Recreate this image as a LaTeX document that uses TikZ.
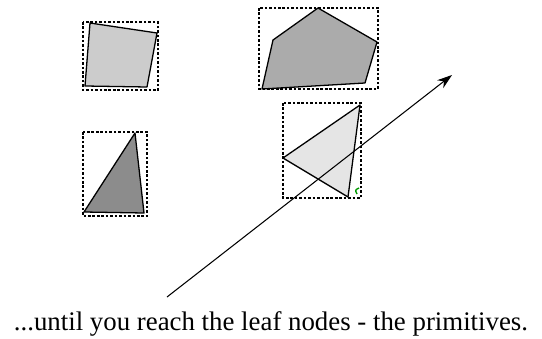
\documentclass[tikz,border=0pt]{standalone}
\usepackage{fontspec}
\setmainfont{Liberation Serif}
\usetikzlibrary{arrows.meta, positioning}

\begin{document}
\begin{tikzpicture}[
    x=0.03cm, y=-0.03cm,
    bbox/.style={draw, line width=1.1pt, dash pattern=on 2.2pt off 1.6pt},
    prim/.style={draw, line width=1.1pt, line join=round},
    ray/.style={-{Stealth[length=4.5mm, width=3mm]}, line width=0.9pt},
]
    \useasboundingbox (0,0) rectangle (542,338);

    % Quad primitive
    \draw[prim, fill=black!20] (90,23) -- (157,33) -- (147,87) -- (85,86) -- cycle;
    \draw[bbox] (83,22) rectangle (158,90);

    % Pentagon primitive
    \draw[prim, fill=black!33] (318,8) -- (377,42) -- (365,83) -- (262,89)
        -- (273,40) -- cycle;
    \draw[bbox] (259,8) rectangle (378,89);

    % Dark triangle
    \draw[prim, fill=black!45] (135,133) -- (144,213) -- (84,212) -- cycle;
    \draw[bbox] (83,132) rectangle (147,216);

    % Light triangle (hit)
    \draw[prim, fill=black!10] (360,105) -- (348,197) -- (283,158) -- cycle;
    \draw[bbox] (283,103) rectangle (361,198);
    \draw[green!60!black, line width=1.2pt] (359,188) .. controls (355,190) .. (357,194);

    % Ray
    \coordinate (rayStart) at (167,297);
    \coordinate (rayEnd) at (452,75);
    \draw[ray] (rayStart) -- (rayEnd);

    % Caption
    \node[font=\fontsize{22.9}{27}\selectfont, anchor=base] (caption) at (271,330)
        {...until you reach the leaf nodes - the primitives.};
\end{tikzpicture}
\end{document}
